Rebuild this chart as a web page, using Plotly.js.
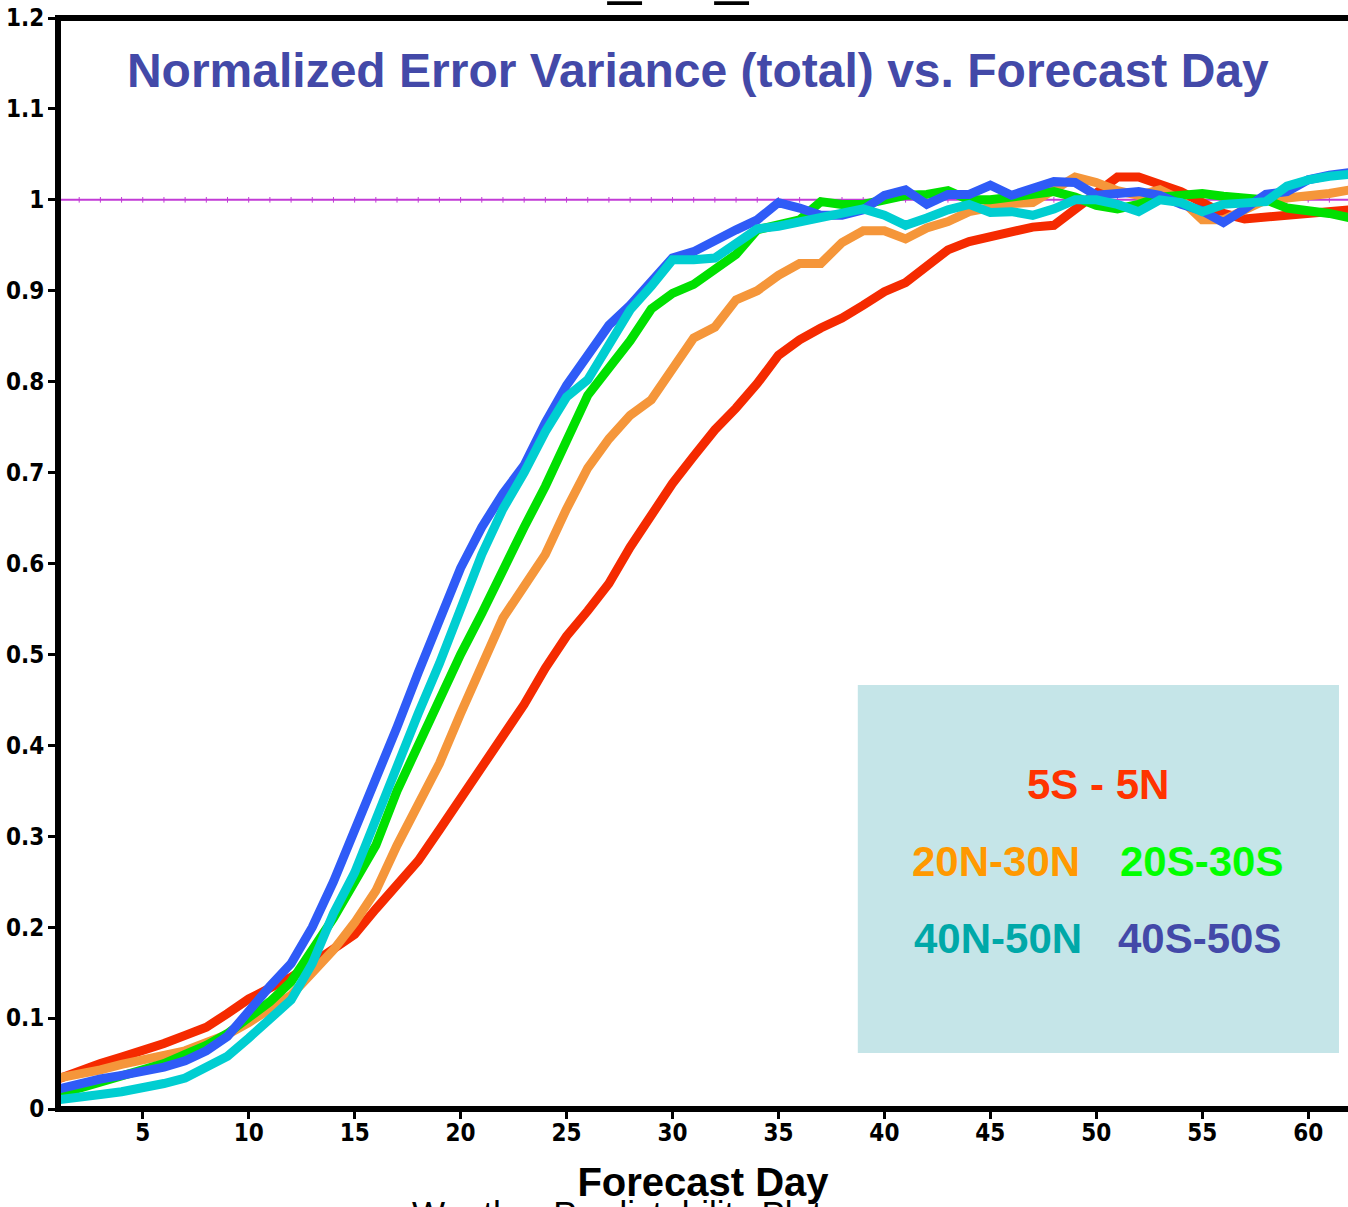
<!DOCTYPE html>
<html>
<head>
<meta charset="utf-8">
<script src="https://cdn.plot.ly/plotly-3.0.1.min.js"></script>
<style>html,body{margin:0;padding:0;background:#fff;}#chart{width:1348px;height:1207px;}</style>
</head>
<body>
<div id="chart"></div>
<script>
var days = [1,2,3,4,5,6,7,8,9,10,11,12,13,14,15,16,17,18,19,20,21,22,23,24,25,26,27,28,29,30,31,32,33,34,35,36,37,38,39,40,41,42,43,44,45,46,47,48,49,50,51,52,53,54,55,56,57,58,59,60,61,62];

var eq5S5N = [0.033,0.042,0.050,0.057,0.064,0.072,0.081,0.090,0.105,0.121,0.133,0.145,0.160,0.176,0.192,0.220,0.247,0.273,0.307,0.341,0.375,0.410,0.445,0.485,0.520,0.548,0.578,0.618,0.653,0.688,0.718,0.747,0.771,0.798,0.829,0.846,0.859,0.870,0.884,0.899,0.909,0.928,0.945,0.954,0.959,0.966,0.970,0.972,0.990,1.010,1.025,1.025,1.016,1.009,0.997,0.985,0.979,0.981,0.984,0.985,0.988,0.989];

var n20n30 = [0.034,0.038,0.043,0.049,0.055,0.059,0.064,0.072,0.082,0.095,0.110,0.125,0.150,0.175,0.205,0.240,0.290,0.335,0.380,0.435,0.490,0.540,0.575,0.610,0.660,0.705,0.737,0.763,0.780,0.813,0.848,0.860,0.890,0.900,0.917,0.930,0.930,0.953,0.966,0.966,0.957,0.969,0.976,0.987,0.992,0.996,0.997,1.010,1.025,1.019,1.010,1.005,1.011,1.000,0.978,0.978,0.990,1.000,1.002,1.004,1.007,1.011];

var s20s30 = [0.016,0.023,0.030,0.036,0.042,0.050,0.060,0.070,0.083,0.099,0.118,0.140,0.175,0.210,0.250,0.290,0.350,0.400,0.455,0.500,0.545,0.595,0.640,0.685,0.735,0.785,0.815,0.845,0.880,0.897,0.907,0.925,0.940,0.967,0.972,0.978,0.998,0.995,0.995,1.000,1.005,1.006,1.010,1.000,1.000,1.003,1.005,1.009,1.003,0.994,0.990,0.995,1.003,1.006,1.007,1.004,1.003,1.000,0.991,0.989,0.985,0.980];

var n40n50 = [0.010,0.012,0.016,0.019,0.023,0.028,0.034,0.045,0.058,0.078,0.098,0.120,0.160,0.215,0.260,0.320,0.377,0.435,0.490,0.550,0.610,0.660,0.700,0.745,0.783,0.802,0.840,0.879,0.905,0.934,0.934,0.936,0.952,0.968,0.971,0.976,0.981,0.987,0.990,0.983,0.972,0.980,0.989,0.995,0.986,0.987,0.983,0.990,1.000,1.000,0.995,0.987,1.000,0.997,0.987,0.995,0.997,0.998,1.015,1.022,1.026,1.028];

var s40s50 = [0.022,0.028,0.033,0.037,0.041,0.046,0.053,0.064,0.080,0.108,0.135,0.160,0.200,0.250,0.305,0.360,0.420,0.480,0.540,0.595,0.640,0.677,0.708,0.755,0.796,0.829,0.862,0.884,0.909,0.936,0.943,0.956,0.967,0.978,0.997,0.991,0.983,0.983,0.989,1.005,1.011,0.995,1.006,1.006,1.016,1.005,1.013,1.020,1.019,1.005,1.007,1.009,1.005,0.995,0.988,0.975,0.990,1.006,1.009,1.022,1.027,1.030];

var refLine = [1,1,1,1,1,1,1,1,1,1,1,1,1,1,1,1,1,1,1,1,1,1,1,1,1,1,1,1,1,1,1,1,1,1,1,1,1,1,1,1,1,1,1,1,1,1,1,1,1,1,1,1,1,1,1,1,1,1,1,1,1,1];

var seriesNames = ["5S - 5N","20N-30N","20S-30S","40N-50N","40S-50S"];
var lineColors = ["#F52A00","#F5963A","#00E000","#00CED1","#2F5BF7"];
var labelColors = ["#FF3300","#FF9900","#00FF00","#00A8A8","#4349A8"];

var xTickVals = [5,10,15,20,25,30,35,40,45,50,55,60];
var xTickText = ["5","10","15","20","25","30","35","40","45","50","55","60"];
var yTickVals = [0,0.1,0.2,0.3,0.4,0.5,0.6,0.7,0.8,0.9,1,1.1,1.2];
var yTickText = ["0","0.1","0.2","0.3","0.4","0.5","0.6","0.7","0.8","0.9","1","1.1","1.2"];

var seriesData = [eq5S5N, n20n30, s20s30, n40n50, s40s50];
var drawOrder = [0,1,2,4,3];

var traces = [{
  x: days, y: refLine, type: "scatter", mode: "lines+markers",
  line: {color: "#C23BD6", width: 2},
  marker: {symbol: "line-ns", size: 4, line: {color: "#C23BD6", width: 1}},
  hoverinfo: "skip", showlegend: false
}];
drawOrder.forEach(function(i){
  traces.push({
    x: days, y: seriesData[i], type: "scatter", mode: "lines",
    name: seriesNames[i],
    line: {color: lineColors[i], width: 9},
    showlegend: false
  });
});

var tickFont = {family: "DejaVu Sans Condensed, Liberation Sans Narrow, sans-serif", size: 24, color: "#000", weight: "bold"};
var labelFont = function(c){ return {family: "Liberation Sans, Arial, sans-serif", size: 42, color: c, weight: "bold"}; };

var annotations = [
  {xref:"paper", yref:"paper", x:0.806, y:0.297, text:seriesNames[0], showarrow:false, xanchor:"center", yanchor:"middle", font:labelFont(labelColors[0])},
  {xref:"paper", yref:"paper", x:0.7275, y:0.2264, text:seriesNames[1], showarrow:false, xanchor:"center", yanchor:"middle", font:labelFont(labelColors[1])},
  {xref:"paper", yref:"paper", x:0.8866, y:0.2264, text:seriesNames[2], showarrow:false, xanchor:"center", yanchor:"middle", font:labelFont(labelColors[2])},
  {xref:"paper", yref:"paper", x:0.729, y:0.1567, text:seriesNames[3], showarrow:false, xanchor:"center", yanchor:"middle", font:labelFont(labelColors[3])},
  {xref:"paper", yref:"paper", x:0.885, y:0.1567, text:seriesNames[4], showarrow:false, xanchor:"center", yanchor:"middle", font:labelFont(labelColors[4])},
  {xref:"paper", yref:"paper", x:0.2727, y:-0.0764, text:"Weather Predictability Plots", showarrow:false, xanchor:"left", yanchor:"top", font:{family:"Liberation Sans, Arial, sans-serif", size:35, color:"#000"}},
  {xref:"paper", yref:"paper", x:(625-58)/1290, y:(1109-8)/1091, text:"_", showarrow:false, xanchor:"center", yanchor:"bottom", font:{family:"Liberation Sans, Arial, sans-serif", size:60, color:"#000"}},
  {xref:"paper", yref:"paper", x:(732-58)/1290, y:(1109-8)/1091, text:"_", showarrow:false, xanchor:"center", yanchor:"bottom", font:{family:"Liberation Sans, Arial, sans-serif", size:60, color:"#000"}}
];

var frame = {color: "#000", width: 6};

var layout = {
  width: 1348, height: 1207,
  margin: {l: 58, r: 0, t: 18, b: 98, pad: 0},
  paper_bgcolor: "#fff", plot_bgcolor: "#fff",
  showlegend: false,
  title: {text: "Normalized Error Variance (total) vs. Forecast Day", xref: "paper", x: 0.496, xanchor: "center", yref: "container", y: 1 - 70/1207, yanchor: "middle",
          font: {family: "Liberation Sans, Arial, sans-serif", size: 48, color: "#4349A8", weight: "bold"}},
  xaxis: {
    range: [1, 61.88], showgrid: false, zeroline: false, showline: false,
    ticks: "outside", ticklen: 9, tickwidth: 3, tickcolor: "#000",
    tickvals: xTickVals, ticktext: xTickText, tickfont: tickFont,
    ticklabelstandoff: -7,
    automargin: false,
    title: {text: "Forecast Day", standoff: 22, font: {family: "Liberation Sans, Arial, sans-serif", size: 40, color: "#000", weight: "bold"}}
  },
  yaxis: {
    range: [0, 1.2], showgrid: false, zeroline: false, showline: false,
    ticks: "outside", ticklen: 9, tickwidth: 3, tickcolor: "#000",
    tickvals: yTickVals, ticktext: yTickText, tickfont: tickFont,
    ticklabelstandoff: -1,
    automargin: false
  },
  shapes: [
    {type: "rect", xref: "paper", yref: "paper", x0: 0.620, x1: 0.993, y0: 0.0513, y1: 0.3886, fillcolor: "#C5E5E8", line: {width: 0}, layer: "below"},
    {type: "line", xref: "paper", yref: "paper", x0: 0, x1: 1.01, y0: 0, y1: 0, line: frame, layer: "above"},
    {type: "line", xref: "paper", yref: "paper", x0: 0, x1: 1.01, y0: 1, y1: 1, line: frame, layer: "above"},
    {type: "line", xref: "paper", yref: "paper", x0: 0, x1: 0, y0: -0.0028, y1: 1.0028, line: frame, layer: "above"}
  ],
  annotations: annotations
};

Plotly.newPlot("chart", traces, layout, {displayModeBar: false, staticPlot: true});
</script>
</body>
</html>
